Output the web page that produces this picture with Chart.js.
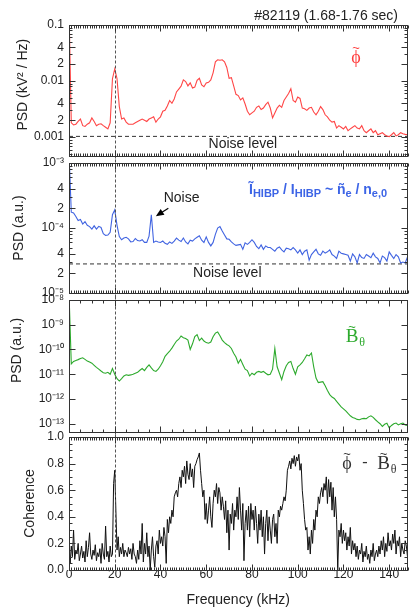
<!DOCTYPE html>
<html>
<head>
<meta charset="utf-8">
<script src="https://cdn.jsdelivr.net/npm/chart.js@4"></script>
<style>
  body { margin: 0; background: #fff; }
  #wrap { position: relative; width: 409px; height: 609px; }
  #wrap canvas { position: absolute; left: 0; top: 0; }
</style>
</head>
<body>
<div id="wrap">
  <canvas id="phiChart" width="409" height="609"></canvas>
  <canvas id="ionChart" width="409" height="609"></canvas>
  <canvas id="bChart" width="409" height="609"></canvas>
  <canvas id="cohChart" width="409" height="609"></canvas>
</div>
<script>
const FREQ_MAX = 148;   // kHz, right edge of the frequency axis
const PSD_STEP = 1;     // kHz between PSD samples
const COH_STEP = 0.5;   // kHz between coherence samples

// potential fluctuation PSD (kV^2/Hz)
const psdPhi = [
  0.2, 0.0018, 0.00165, 0.0017, 0.0019, 0.0021, 0.0016, 0.00155, 0.0017, 0.0018,
  0.0022, 0.0019, 0.0016, 0.0017, 0.00173, 0.0016, 0.0015, 0.0014, 0.0018, 0.011,
  0.0165, 0.011, 0.0035, 0.0021, 0.0022, 0.00185, 0.0017, 0.0017, 0.0017, 0.0018,
  0.0019, 0.002, 0.0021, 0.002, 0.0019, 0.0021, 0.0022, 0.0023, 0.00185, 0.0021,
  0.0023, 0.0029, 0.003, 0.0036, 0.0045, 0.004, 0.0048, 0.0064, 0.0072, 0.0081,
  0.0105, 0.0098, 0.0082, 0.0093, 0.0075, 0.0078, 0.0103, 0.0112, 0.0085, 0.0079,
  0.0092, 0.0095, 0.0105, 0.014, 0.022, 0.024, 0.0235, 0.024, 0.022, 0.0175,
  0.0112, 0.0115, 0.0082, 0.0058, 0.0055, 0.0046, 0.005, 0.0039, 0.0029, 0.0025,
  0.0027, 0.0029, 0.0034, 0.0036, 0.0031, 0.0033, 0.0038, 0.0042, 0.0033, 0.0022,
  0.0027, 0.0033, 0.0037, 0.0034, 0.0045, 0.0052, 0.006, 0.0073, 0.0045, 0.0042,
  0.0052, 0.0049, 0.0033, 0.0032, 0.003, 0.0033, 0.0034, 0.0028, 0.0025, 0.0029,
  0.0035, 0.0031, 0.0025, 0.0023, 0.002, 0.00185, 0.0019, 0.00145, 0.0016, 0.0015,
  0.0014, 0.00155, 0.0013, 0.0014, 0.0015, 0.0016, 0.00145, 0.0014, 0.0016, 0.0013,
  0.0012, 0.0013, 0.0014, 0.0012, 0.0013, 0.0011, 0.00115, 0.0012, 0.0011, 0.00105,
  0.00102, 0.0011, 0.0012, 0.00105, 0.0011, 0.0012, 0.00115, 0.00112, 0.0011
];

// HIBP beam current fluctuation PSD (a.u.)
const psdIon = [
  1.5e-3, 1.75e-4, 1.7e-4, 1.5e-4, 1.3e-4, 1.35e-4, 1.15e-4, 1.25e-4, 1.1e-4, 1.05e-4,
  9.6e-5, 1.08e-4, 9.6e-5, 1.06e-4, 1.02e-4, 8.2e-5, 7.7e-5, 7.8e-5, 8.6e-5, 1.6e-4,
  1.9e-4, 1.1e-4, 7.4e-5, 6.6e-5, 7.0e-5, 7.2e-5, 6.8e-5, 6.1e-5, 6.2e-5, 6.9e-5,
  6.4e-5, 6.3e-5, 6.6e-5, 6.0e-5, 6.0e-5, 7.5e-5, 1.6e-4, 6.0e-5, 6.3e-5, 6.1e-5,
  6.0e-5, 6.3e-5, 5.8e-5, 5.6e-5, 6.1e-5, 5.8e-5, 6.3e-5, 7.0e-5, 6.5e-5, 6.2e-5,
  7.0e-5, 6.1e-5, 5.7e-5, 6.5e-5, 6.3e-5, 6.8e-5, 7.2e-5, 7.6e-5, 6.5e-5, 6.0e-5,
  7.3e-5, 6.0e-5, 5.3e-5, 6.0e-5, 8.0e-5, 1.0e-4, 1.05e-4, 9.0e-5, 7.8e-5, 6.8e-5,
  6.7e-5, 6.1e-5, 5.7e-5, 5.4e-5, 5.5e-5, 5.6e-5, 4.7e-5, 5.9e-5, 5.6e-5, 6.0e-5,
  6.6e-5, 6.0e-5, 5.2e-5, 4.8e-5, 5.5e-5, 4.7e-5, 5.3e-5, 5.0e-5, 5.0e-5, 4.7e-5,
  4.4e-5, 4.9e-5, 5.1e-5, 4.6e-5, 4.3e-5, 4.9e-5, 4.8e-5, 4.6e-5, 5.0e-5, 4.6e-5,
  4.1e-5, 4.6e-5, 3.9e-5, 4.4e-5, 4.6e-5, 3.2e-5, 3.9e-5, 4.3e-5, 4.7e-5, 4.0e-5,
  3.8e-5, 4.4e-5, 4.1e-5, 4.3e-5, 4.6e-5, 3.9e-5, 3.7e-5, 3.4e-5, 4.4e-5, 4.1e-5,
  4.0e-5, 3.9e-5, 3.8e-5, 3.1e-5, 4.0e-5, 3.6e-5, 2.9e-5, 3.9e-5, 3.5e-5, 3.4e-5,
  3.9e-5, 3.7e-5, 3.5e-5, 4.1e-5, 3.6e-5, 3.4e-5, 2.9e-5, 3.7e-5, 3.5e-5, 3.1e-5,
  4.3e-5, 3.8e-5, 3.4e-5, 3.9e-5, 3.6e-5, 2.9e-5, 3.0e-5, 2.9e-5, 3.6e-5
];

// magnetic probe B_theta PSD (a.u.)
const psdBtheta = [
  2e-8, 2.6e-11, 3.3e-11, 3.6e-11, 3.9e-11, 4.3e-11, 4.6e-11, 4.0e-11, 3.4e-11, 3.1e-11,
  2.8e-11, 2.3e-11, 1.9e-11, 1.6e-11, 1.35e-11, 1.15e-11, 1.1e-11, 1.2e-11, 1.0e-11, 1.7e-11,
  1.0e-11, 6.6e-12, 5.3e-12, 6.6e-12, 8.5e-12, 9.5e-12, 9.0e-12, 9.4e-12, 1.0e-11, 1.1e-11,
  1.2e-11, 1.45e-11, 1.7e-11, 1.4e-11, 1.9e-11, 2.4e-11, 1.8e-11, 1.4e-11, 1.3e-11, 1.6e-11,
  2.2e-11, 3.2e-11, 5.3e-11, 6.8e-11, 8.5e-11, 1.14e-10, 1.6e-10, 2.2e-10, 2.6e-10, 3.5e-10,
  3.0e-10, 2.8e-10, 2.4e-10, 1.0e-10, 1.7e-10, 3.3e-10, 4.0e-10, 2.3e-10, 2.9e-10, 2.2e-10,
  1.9e-10, 1.8e-10, 2.0e-10, 3.3e-10, 4.6e-10, 5.1e-10, 3.6e-10, 2.4e-10, 1.9e-10, 1.6e-10,
  1.4e-10, 1.1e-10, 7.0e-11, 5.0e-11, 2.8e-11, 4.0e-11, 2.5e-11, 1.6e-11, 1.4e-11, 8.5e-12,
  1.1e-11, 9.6e-12, 1.2e-11, 1.3e-11, 1.2e-11, 1.3e-11, 1.1e-11, 9.5e-12, 1.0e-11, 1.6e-11,
  1.1e-10, 2.0e-11, 1.1e-11, 6.0e-12, 1.3e-11, 2.2e-11, 3.0e-11, 3.3e-11, 1.7e-11, 1.0e-11,
  2.0e-11, 2.4e-11, 3.0e-11, 4.2e-11, 6.0e-11, 5.5e-11, 7.2e-11, 2.0e-11, 7.0e-12, 4.6e-12,
  4.8e-12, 5.0e-12, 3.4e-12, 2.2e-12, 1.5e-12, 1.2e-12, 1.05e-12, 8.0e-13, 6.2e-13, 4.8e-13,
  4.0e-13, 3.3e-13, 2.6e-13, 2.1e-13, 1.8e-13, 1.65e-13, 1.5e-13, 1.45e-13, 1.6e-13, 1.65e-13,
  1.6e-13, 1.9e-13, 2.1e-13, 1.8e-13, 1.45e-13, 1.2e-13, 1.0e-13, 7.8e-14, 9.5e-14, 1.05e-13,
  6.8e-14, 8.5e-14, 1.0e-13, 1.07e-13, 9.0e-14, 1.0e-13, 1.07e-13, 9.0e-14, 8.5e-14
];

// coherence phi - B_theta
const coherence = [
  0.15, 0.05, 0.18, 0.10, 0.30, 0.08, 0.15, 0.12, 0.20, 0.07,
  0.12, 0.18, 0.09, 0.14, 0.06, 0.22, 0.10, 0.17, 0.28, 0.12,
  0.08, 0.15, 0.11, 0.19, 0.07, 0.13, 0.10, 0.16, 0.05, 0.20,
  0.12, 0.08, 0.33, 0.10, 0.14, 0.06, 0.18, 0.10, 0.12, 0.65,
  0.75, 0.45, 0.15, 0.25, 0.10, 0.17, 0.12, 0.20, 0.10, 0.15,
  0.13, 0.10, 0.17, 0.12, 0.16, 0.08, 0.20, 0.12, 0.10, 0.05,
  0.15, 0.08, 0.22, 0.12, 0.35, 0.06, 0.20, 0.12, 0.28, 0.10,
  0.18, 0.00, 0.15, 0.25, 0.10, 0.02, 0.18, 0.22, 0.12, 0.30,
  0.20, 0.25, 0.18, 0.32, 0.25, 0.05, 0.38, 0.28, 0.40, 0.35,
  0.45, 0.40, 0.55, 0.58, 0.60, 0.55, 0.65, 0.70, 0.62, 0.75,
  0.70, 0.78, 0.65, 0.82, 0.72, 0.68, 0.80, 0.70, 0.76, 0.62,
  0.78, 0.80, 0.83, 0.85, 0.88, 0.75, 0.65, 0.55, 0.60, 0.38,
  0.50, 0.35, 0.45, 0.55, 0.40, 0.32, 0.50, 0.60, 0.55, 0.65,
  0.50, 0.62, 0.58, 0.45, 0.55, 0.48, 0.38, 0.52, 0.28, 0.45,
  0.15, 0.42, 0.35, 0.50, 0.30, 0.45, 0.40, 0.55, 0.38, 0.62,
  0.45, 0.30, 0.50, 0.07, 0.35, 0.45, 0.30, 0.48, 0.25, 0.50,
  0.38, 0.45, 0.30, 0.48, 0.35, 0.20, 0.42, 0.30, 0.45, 0.25,
  0.40, 0.12, 0.35, 0.45, 0.22, 0.40, 0.30, 0.20, 0.38, 0.42,
  0.25, 0.35, 0.20, 0.45, 0.40, 0.48, 0.45, 0.50, 0.55, 0.52,
  0.60, 0.75, 0.78, 0.82, 0.76, 0.84, 0.80, 0.86, 0.78, 0.85,
  0.82, 0.87, 0.75, 0.80, 0.60, 0.50, 0.38, 0.30, 0.32, 0.15,
  0.25, 0.12, 0.30, 0.20, 0.38, 0.30, 0.45, 0.40, 0.55, 0.50,
  0.58, 0.62, 0.55, 0.65, 0.60, 0.70, 0.50, 0.68, 0.55, 0.66,
  0.45, 0.62, 0.40, 0.55, 0.38, 0.00, 0.30, 0.25, 0.35, 0.20,
  0.30, 0.22, 0.28, 0.15, 0.25, 0.18, 0.32, 0.12, 0.22, 0.15,
  0.20, 0.10, 0.18, 0.08, 0.15, 0.12, 0.20, 0.06, 0.14, 0.10,
  0.18, 0.08, 0.12, 0.05, 0.15, 0.10, 0.20, 0.07, 0.12, 0.15,
  0.10, 0.18, 0.12, 0.22, 0.15, 0.25, 0.10, 0.20, 0.14, 0.28,
  0.18, 0.22, 0.15, 0.27, 0.20, 0.30, 0.12, 0.22, 0.18, 0.25,
  0.10, 0.20, 0.15, 0.12, 0.22, 0.18, 0.10
];

const noisePhi = 1.03e-3;
const noiseIon = 2.8e-5;
const markerFreq = 20;
const noiseSpikeFreq = 36;

const freqTicks = [0, 20, 40, 60, 80, 100, 120, 140];
const phiTicks = [0.001, 0.002, 0.004, 0.01, 0.02, 0.04, 0.1];
const phiTickLabels = ['0.001', '2', '4', '0.01', '2', '4', '0.1'];
const ionTicks = [1e-5, 2e-5, 4e-5, 1e-4, 2e-4, 4e-4, 1e-3];
const ionTickLabels = ['10⁻⁵', '2', '4', '10⁻⁴', '2', '4', '10⁻³'];
const bTicks = [1e-13, 1e-12, 1e-11, 1e-10, 1e-9, 1e-8];
const bTickLabels = ['10⁻¹³', '10⁻¹²', '10⁻¹¹', '10⁻¹⁰', '10⁻⁹', '10⁻⁸'];
const cohTicks = [0, 0.2, 0.4, 0.6, 0.8, 1.0];
const cohTickLabels = ['0.0', '0.2', '0.4', '0.6', '0.8', '1.0'];

const INK = '#222';
const SANS = '"Liberation Sans", Arial, sans-serif';
const SERIF = '"Liberation Serif", "DejaVu Serif", serif';
Chart.defaults.font.family = SANS;
Chart.defaults.color = INK;

const pts = (arr, step) => arr.map((v, i) => ({ x: i * step, y: v }));
const flat = (v) => [{ x: 0, y: v }, { x: FREQ_MAX, y: v }];

function logMinor(min, max) {
  const out = [];
  for (let e = Math.floor(Math.log10(min)); e <= Math.ceil(Math.log10(max)); e++) {
    for (let m = 1; m <= 9; m++) {
      const v = m * Math.pow(10, e);
      if (v > min * 1.0001 && v < max / 1.0001) out.push(v);
    }
  }
  return out;
}

function text(ctx, s, x, y, font, color, align) {
  ctx.font = font;
  ctx.fillStyle = color;
  ctx.textAlign = align || 'center';
  ctx.textBaseline = 'middle';
  ctx.fillText(s, x, y);
}

// glyph with a tilde on top, optional subscript
function tilded(ctx, g, x, y, size, color, sub) {
  text(ctx, g, x, y, size + 'px ' + SERIF, color);
  const w = ctx.measureText(g).width;
  text(ctx, '~', x, y - size * 0.52, Math.round(size * 0.7) + 'px ' + SANS, color);
  if (sub) text(ctx, sub, x + w / 2 + 1, y + size * 0.3, Math.round(size * 0.62) + 'px ' + SERIF, color, 'left');
}

function runs(ctx, parts, x, y, color) {
  ctx.fillStyle = color;
  ctx.textAlign = 'left';
  ctx.textBaseline = 'alphabetic';
  for (const [t, size, dy] of parts) {
    ctx.font = 'bold ' + size + 'px ' + SANS;
    ctx.fillText(t, x, y + dy);
    x += ctx.measureText(t).width;
  }
}

function arrow(ctx, x0, y0, x1, y1) {
  const ang = Math.atan2(y1 - y0, x1 - x0);
  ctx.strokeStyle = '#000';
  ctx.fillStyle = '#000';
  ctx.lineWidth = 1.2;
  ctx.beginPath(); ctx.moveTo(x0, y0); ctx.lineTo(x1 - 5 * Math.cos(ang), y1 - 5 * Math.sin(ang)); ctx.stroke();
  ctx.beginPath();
  ctx.moveTo(x1, y1);
  ctx.lineTo(x1 - 8 * Math.cos(ang) + 3.5 * Math.sin(ang), y1 - 8 * Math.sin(ang) - 3.5 * Math.cos(ang));
  ctx.lineTo(x1 - 8 * Math.cos(ang) - 3.5 * Math.sin(ang), y1 - 8 * Math.sin(ang) + 3.5 * Math.cos(ang));
  ctx.closePath(); ctx.fill();
}

// frame, inward ticks, 20 kHz marker and annotations
function decor(cfg) {
  return {
    id: 'decor',
    afterDatasetsDraw(chart) {
      const { ctx, chartArea: a, scales: { x, y } } = chart;
      const L = Math.floor(a.left) + 0.5, R = Math.floor(a.right) + 0.5;
      const T = Math.floor(a.top) + 0.5, B = Math.floor(a.bottom) + 0.5;
      ctx.save();
      const mx = Math.round(x.getPixelForValue(markerFreq)) + 0.5;
      ctx.strokeStyle = '#555';
      ctx.lineWidth = 1;
      ctx.setLineDash([3, 2]);
      ctx.beginPath(); ctx.moveTo(mx, T - cfg.ext[0]); ctx.lineTo(mx, B + cfg.ext[1]); ctx.stroke();
      ctx.setLineDash([]);

      ctx.strokeStyle = '#333';
      ctx.strokeRect(L, T, R - L, B - T);
      ctx.beginPath();
      for (let i = 0; i * cfg.xStep <= FREQ_MAX; i++) {
        const f = i * cfg.xStep;
        const p = Math.round(x.getPixelForValue(f)) + 0.5;
        const len = f % 20 === 0 ? 6 : 3;
        ctx.moveTo(p, T); ctx.lineTo(p, T + len);
        ctx.moveTo(p, B); ctx.lineTo(p, B - len);
      }
      const yt = (v, len) => {
        const p = Math.round(y.getPixelForValue(v)) + 0.5;
        ctx.moveTo(L, p); ctx.lineTo(L + len, p);
        ctx.moveTo(R, p); ctx.lineTo(R - len, p);
      };
      cfg.yMinor.forEach(v => yt(v, 3));
      cfg.ticks.forEach(v => yt(v, 6));
      ctx.stroke();

      if (cfg.notes) cfg.notes(ctx, chart);
      ctx.restore();
    }
  };
}

function panel(id, cfg) {
  const last = !!cfg.xAxis;
  return new Chart(document.getElementById(id), {
    type: 'line',
    data: { datasets: cfg.datasets },
    options: {
      responsive: false,
      animation: false,
      events: [],
      layout: { padding: { top: cfg.top, bottom: cfg.bottom, left: 0, right: 1.5 } },
      plugins: { legend: { display: false }, tooltip: { enabled: false } },
      elements: { point: { radius: 0 }, line: { tension: 0 } },
      scales: {
        x: {
          type: 'linear', min: 0, max: FREQ_MAX, display: last,
          afterFit: s => { s.height = last ? 39 : 0; },
          afterBuildTicks: s => { s.ticks = freqTicks.map(v => ({ value: v })); },
          ticks: { autoSkip: false, maxRotation: 0, padding: -2.5, font: { size: 12 }, color: INK, callback: v => String(v) },
          grid: { display: false, drawTicks: false },
          border: { display: false },
          title: { display: true, text: 'Frequency (kHz)', font: { size: 14 }, color: INK, padding: { top: 0, bottom: 0 } }
        },
        y: {
          type: cfg.log ? 'logarithmic' : 'linear',
          min: cfg.yMin, max: cfg.yMax,
          afterFit: s => { s.width = 69; },
          afterBuildTicks: s => { s.ticks = cfg.ticks.map(v => ({ value: v })); },
          ticks: { autoSkip: false, padding: 5, font: { size: 12 }, color: INK, callback: (v, i) => cfg.tickLabels[i] },
          grid: { display: false, drawTicks: false },
          border: { display: false },
          title: { display: true, text: cfg.title, font: { size: 14 }, color: INK, padding: { top: cfg.titlePad, bottom: 0 } }
        }
      }
    },
    plugins: [decor(cfg)]
  });
}

const dashed = (v) => ({ data: flat(v), borderColor: '#333', borderWidth: 1, borderDash: [4, 3] });

panel('phiChart', {
  top: 25, bottom: 453, log: true, yMin: 4.6e-4, yMax: 0.1,
  ticks: phiTicks, tickLabels: phiTickLabels, yMinor: logMinor(4.6e-4, 0.1),
  title: '   PSD (kV² / Hz)', titlePad: 15, xStep: 1, ext: [0, 3],
  datasets: [
    { data: pts(psdPhi, PSD_STEP), borderColor: 'rgb(255,70,70)', borderWidth: 1.1 },
    dashed(noisePhi)
  ],
  notes(ctx, ch) {
    const { x, y } = ch.scales, a = ch.chartArea;
    text(ctx, '#82119 (1.68-1.76 sec)', a.right - 9.5, 16, '14px ' + SANS, INK, 'right');
    text(ctx, 'Noise level', x.getPixelForValue(76), y.getPixelForValue(noisePhi) + 8, '14px ' + SANS, INK);
    tilded(ctx, 'ϕ', a.right - 51.5, a.top + 33, 18, 'rgb(255,60,60)');
  }
});

panel('ionChart', {
  top: 163, bottom: 316, log: true, yMin: 1e-5, yMax: 1e-3,
  ticks: ionTicks, tickLabels: ionTickLabels, yMinor: logMinor(1e-5, 1e-3),
  title: 'PSD (a.u.)', titlePad: 10.5, xStep: 1, ext: [4, 4],
  datasets: [
    { data: pts(psdIon, PSD_STEP), borderColor: 'rgb(65,100,225)', borderWidth: 1.1 },
    dashed(noiseIon)
  ],
  notes(ctx, ch) {
    const { x, y } = ch.scales, a = ch.chartArea;
    text(ctx, 'Noise level', x.getPixelForValue(69.2), y.getPixelForValue(noiseIon) + 9, '14px ' + SANS, INK);
    const tx = x.getPixelForValue(noiseSpikeFreq) + 4.5;
    const ty = y.getPixelForValue(psdIon[noiseSpikeFreq / PSD_STEP]) + 1.5;
    arrow(ctx, tx + 12.5, ty - 8, tx, ty);
    text(ctx, 'Noise', tx + 25.7, ty - 18.4, '14px ' + SANS, INK);
    runs(ctx, [
      ['Ĩ', 14, 0], ['HIBP', 11, 2.5], [' / I', 14, 0], ['HIBP', 11, 2.5],
      [' ~ ñ', 14, 0], ['e', 11, 2.5], [' / n', 14, 0], ['e,0', 11, 2.5]
    ], a.left + 180, a.top + 31, 'rgb(60,100,230)');
  }
});

panel('bChart', {
  top: 300, bottom: 177, log: true, yMin: 4.64e-14, yMax: 1e-8,
  ticks: bTicks, tickLabels: bTickLabels, yMinor: [],
  title: '        PSD (a.u.)', titlePad: 9, xStep: 5, ext: [4, 3],
  datasets: [
    { data: pts(psdBtheta, PSD_STEP), borderColor: 'rgb(45,170,45)', borderWidth: 1.1 }
  ],
  notes(ctx, ch) {
    const a = ch.chartArea;
    tilded(ctx, 'B', a.right - 55.5, a.top + 37, 19, 'rgb(45,170,45)', 'θ');
  }
});

panel('cohChart', {
  top: 437, bottom: 0, log: false, yMin: 0, yMax: 1,
  ticks: cohTicks, tickLabels: cohTickLabels,
  yMinor: Array.from({ length: 21 }, (_, i) => i * 0.05),
  title: 'Coherence', titlePad: 21.5, xStep: 1, ext: [3, 0], xAxis: true,
  datasets: [
    { data: pts(coherence, COH_STEP), borderColor: '#111', borderWidth: 1 }
  ],
  notes(ctx, ch) {
    const a = ch.chartArea;
    tilded(ctx, 'ϕ', a.right - 60.5, a.top + 27, 18, '#333');
    text(ctx, '-', a.right - 42.5, a.top + 26, '16px ' + SERIF, '#333');
    tilded(ctx, 'B', a.right - 24, a.top + 27, 19, '#333', 'θ');
  }
});
</script>
</body>
</html>
